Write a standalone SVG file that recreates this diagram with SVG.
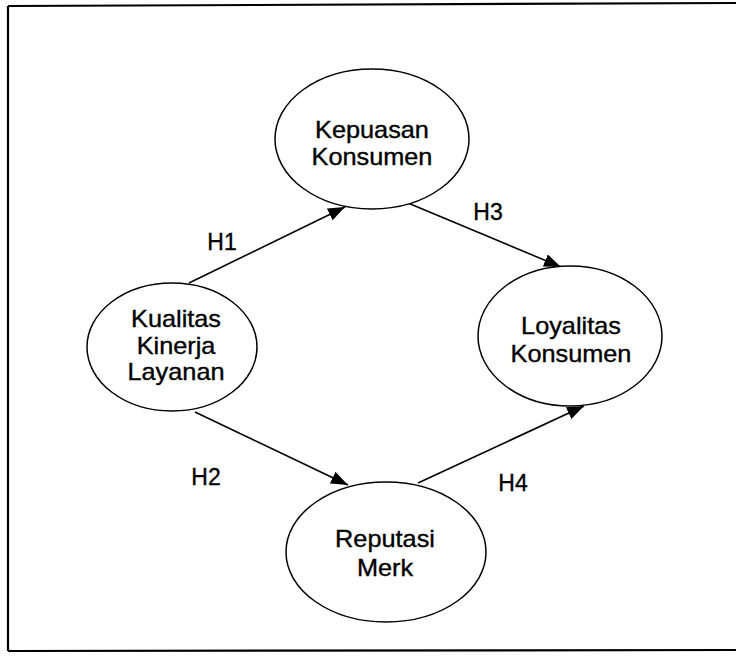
<svg xmlns="http://www.w3.org/2000/svg" width="736" height="657" viewBox="0 0 736 657">
<defs>
<marker id="arr" viewBox="0 0 17 13" refX="17" refY="6.5" markerWidth="17" markerHeight="13" markerUnits="userSpaceOnUse" orient="auto">
<path d="M0,0 L17,6.5 L0,13 Z" fill="#000"/>
</marker>
</defs>
<style>
.node ellipse{fill:#fff;stroke:#000;stroke-width:1.5}
.lbl{font-family:"Liberation Sans",Arial,sans-serif;font-size:23px;fill:#000;stroke:#000;stroke-width:0.35;text-anchor:middle}
.edge{stroke:#000;stroke-width:1.6;fill:none}
.frame{stroke:#000;stroke-width:2.2;fill:none}
</style>
<rect width="736" height="657" fill="#fff"/>
<path class="frame" d="M8,6 L736,3 M8,6 L8,651 M8,651 L736,650"/>
<g id="connectors">
<line class="edge" x1="189" y1="283" x2="345" y2="207" marker-end="url(#arr)"/>
<line class="edge" x1="408" y1="203" x2="561" y2="267" marker-end="url(#arr)"/>
<line class="edge" x1="195" y1="412" x2="348" y2="485" marker-end="url(#arr)"/>
<line class="edge" x1="418" y1="483" x2="584" y2="406" marker-end="url(#arr)"/>
<text class="lbl" x="222" y="250">H1</text>
<text class="lbl" x="488" y="220">H3</text>
<text class="lbl" x="206" y="485">H2</text>
<text class="lbl" x="513" y="491">H4</text>
</g>
<g id="kepuasan" class="node">
<ellipse cx="372" cy="139" rx="97" ry="70"/>
<g transform="translate(372 0) scale(1.1 1)">
<text class="lbl" x="0" y="138">Kepuasan</text>
<text class="lbl" x="0" y="165">Konsumen</text>
</g>
</g>
<g id="kualitas" class="node">
<ellipse cx="172" cy="347" rx="85" ry="64"/>
<g transform="translate(176 0) scale(1.1 1)">
<text class="lbl" x="0" y="327">Kualitas</text>
<text class="lbl" x="0" y="354">Kinerja</text>
<text class="lbl" x="0" y="380">Layanan</text>
</g>
</g>
<g id="loyalitas" class="node">
<ellipse cx="570" cy="336" rx="92" ry="70"/>
<g transform="translate(571 0) scale(1.1 1)">
<text class="lbl" x="0" y="334">Loyalitas</text>
<text class="lbl" x="0" y="362">Konsumen</text>
</g>
</g>
<g id="reputasi" class="node">
<ellipse cx="386" cy="552" rx="100" ry="70"/>
<g transform="translate(385 0) scale(1.1 1)">
<text class="lbl" x="0" y="547">Reputasi</text>
<text class="lbl" x="0" y="576">Merk</text>
</g>
</g>
</svg>
